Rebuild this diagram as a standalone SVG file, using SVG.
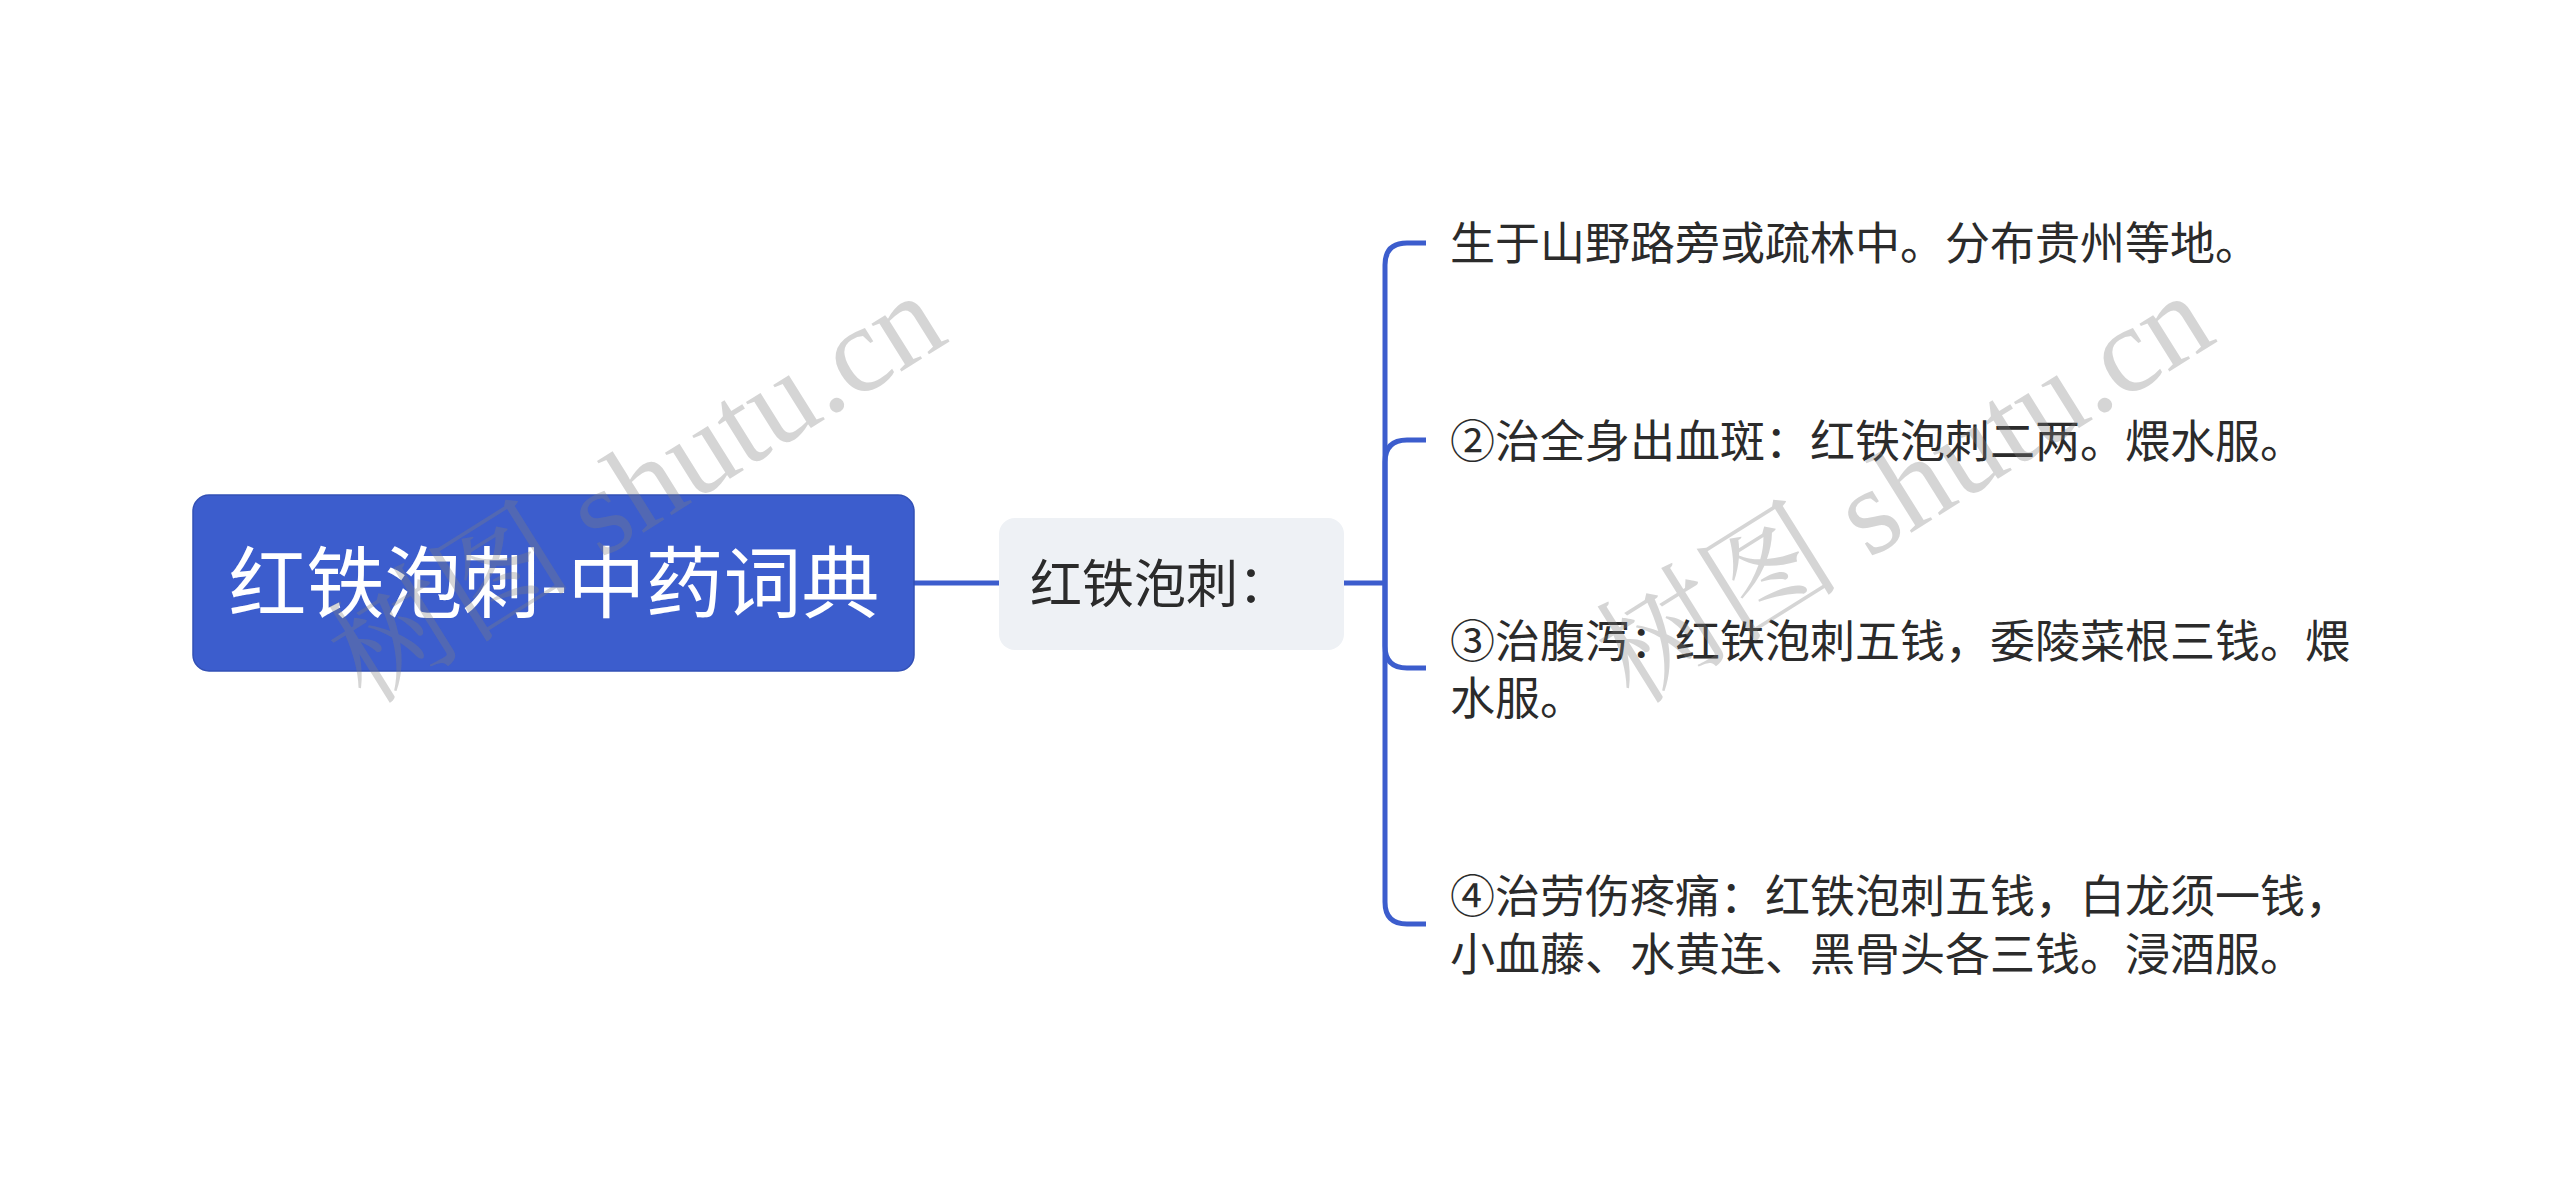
<svg xmlns="http://www.w3.org/2000/svg" width="2560" height="1196" viewBox="0 0 2560 1196">
<style>
.root{fill:#3c5dcd;stroke:#3250b5;stroke-width:1.5}
.sub{fill:#eef1f5}
.t{font-family:"Noto Sans CJK SC","Noto Sans",sans-serif}
.rt{fill:#ffffff;font-size:78px}
.st{fill:#2b2b2b;font-size:52px}
.lt{fill:#2b2b2b;font-size:45px}
.ln{fill:none;stroke:#3c5dcd;stroke-width:5;stroke-linecap:butt}
.wm{font-family:"Liberation Serif","Noto Serif CJK SC","Noto Sans CJK SC",serif;font-size:123px;fill:#808080;fill-opacity:0.33}
</style>
<rect width="2560" height="1196" fill="#ffffff"/>
<g id="connectors">
<path class="ln" d="M914 583 H999"/>
<path class="ln" d="M1344 583 H1385"/>
<path class="ln" d="M1385 583 V265 Q1385 243 1407 243 H1426"/>
<path class="ln" d="M1385 583 V462 Q1385 440 1407 440 H1426"/>
<path class="ln" d="M1385 583 V646 Q1385 668 1407 668 H1426"/>
<path class="ln" d="M1385 583 V902 Q1385 924 1407 924 H1426"/>
</g>
<g id="node-root">
<rect class="root" x="193" y="495" width="721" height="176" rx="16"/>
<text class="t rt" x="554" y="612" text-anchor="middle">红铁泡刺-中药词典</text>
</g>
<g id="node-sub">
<rect class="sub" x="999" y="518" width="345" height="132" rx="16"/>
<text class="t st" x="1030" y="603">红铁泡刺：</text>
</g>
<g id="node-leaf1">
<text class="t lt" x="1450" y="260">生于山野路旁或疏林中。分布贵州等地。</text>
</g>
<g id="node-leaf2">
<text class="t lt" x="1450" y="458">②治全身出血斑：红铁泡刺二两。煨水服。</text>
</g>
<g id="node-leaf3">
<text class="t lt" x="1450" y="658">③治腹泻：红铁泡刺五钱，委陵菜根三钱。煨</text>
<text class="t lt" x="1450" y="715">水服。</text>
</g>
<g id="node-leaf4">
<text class="t lt" x="1450" y="913">④治劳伤疼痛：红铁泡刺五钱，白龙须一钱，</text>
<text class="t lt" x="1450" y="971">小血藤、水黄连、黑骨头各三钱。浸酒服。</text>
</g>
<g id="watermarks">
<text class="wm" transform="translate(366 706) rotate(-32)">树图 shutu.cn</text>
<text class="wm" transform="translate(1634 706) rotate(-32)">树图 shutu.cn</text>
</g>
</svg>
